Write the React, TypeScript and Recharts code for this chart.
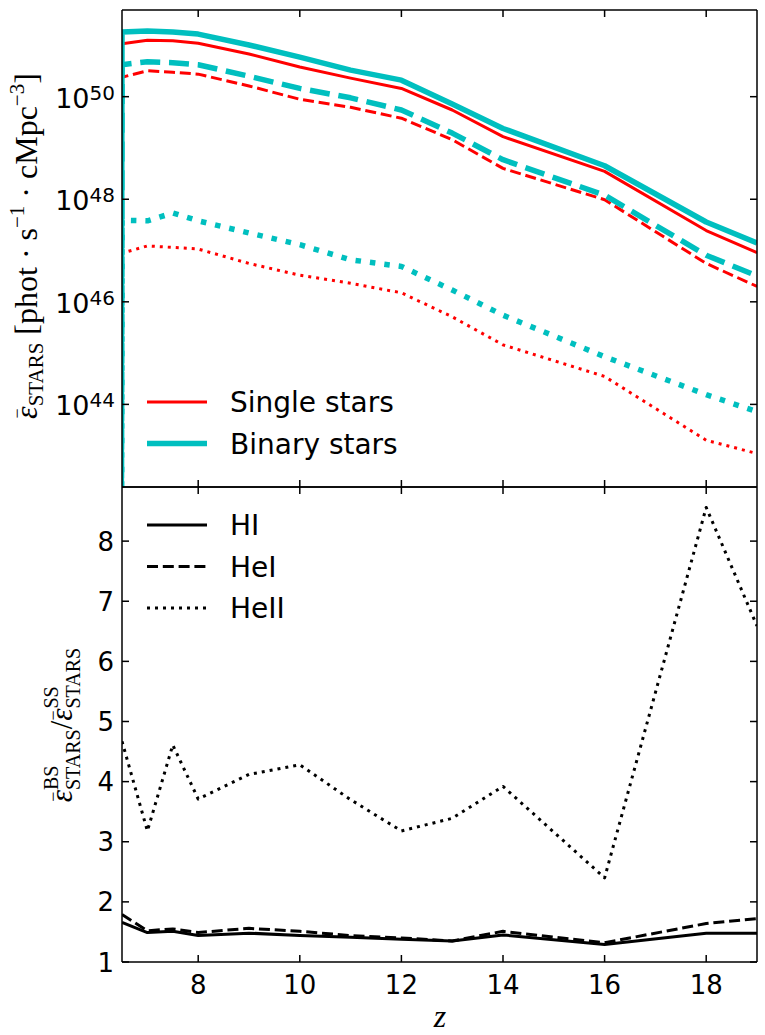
import { Legend, Line, LineChart, XAxis, YAxis } from "recharts";

// redshift grid shared by both panels (z = 6 is below the axis limit)
const redshift = [6, 6.5, 7, 7.5, 8, 9, 10, 11, 12, 13, 14, 16, 18, 19];
const zTicks = [8, 10, 12, 14, 16, 18];

// emissivity floor for the first snapshot: nothing emitted yet, drops off the log axis
const NONE = 1e-300;

// top panel, phot s^-1 cMpc^-3
const singleHI = [NONE, 1.07e51, 1.26e51, 1.23e51, 1.1e51, 6.8e50, 3.8e50, 2.3e50, 1.45e50, 5.5e49, 1.66e49, 3.5e48, 2.45e47, 9.1e46];
const singleHeI = [NONE, 2.4e50, 3.2e50, 3.0e50, 2.75e50, 1.62e50, 8.9e49, 6.2e49, 3.8e49, 1.45e49, 4.0e48, 9.8e47, 5.6e46, 2.0e46];
const singleHeII = [NONE, 8.9e46, 1.23e47, 1.15e47, 1.07e47, 5.6e46, 3.3e46, 2.3e46, 1.5e46, 5.1e45, 1.45e45, 3.5e44, 2.0e43, 1.1e43];
const binaryHI = [NONE, 1.82e51, 1.91e51, 1.82e51, 1.66e51, 1.02e51, 5.9e50, 3.3e50, 2.1e50, 7.2e49, 2.4e49, 4.5e48, 3.6e47, 1.4e47];
const binaryHeI = [NONE, 4.2e50, 4.8e50, 4.6e50, 4.2e50, 2.5e50, 1.45e50, 9.5e49, 5.5e49, 1.95e49, 5.9e48, 1.2e48, 8.1e46, 3.2e46];
const binaryHeII = [NONE, 3.9e47, 3.8e47, 5.4e47, 3.8e47, 2.2e47, 1.3e47, 6.6e46, 4.9e46, 1.7e46, 5.5e45, 8.5e44, 1.55e44, 7.2e43];

// bottom panel, binary / single ratio
const ratioHI = [null, 1.66, 1.49, 1.51, 1.44, 1.48, 1.44, 1.41, 1.38, 1.35, 1.45, 1.29, 1.48, 1.48];
const ratioHeI = [null, 1.79, 1.52, 1.55, 1.49, 1.56, 1.51, 1.44, 1.4, 1.35, 1.51, 1.32, 1.64, 1.72];
const ratioHeII = [null, 4.67, 3.18, 4.61, 3.71, 4.12, 4.28, 3.7, 3.18, 3.39, 3.92, 2.4, 8.56, 6.59];

const topData = redshift.map((z, i) => ({
  z,
  singleHI: singleHI[i],
  singleHeI: singleHeI[i],
  singleHeII: singleHeII[i],
  binaryHI: binaryHI[i],
  binaryHeI: binaryHeI[i],
  binaryHeII: binaryHeII[i]
}));

const ratioData = redshift.map((z, i) => ({
  z,
  HI: ratioHI[i],
  HeI: ratioHeI[i],
  HeII: ratioHeII[i]
}));

const RED = "#ff0000";
const CYAN = "#00bfbf";
const SANS = "DejaVu Sans";
const SERIF = "Liberation Serif";
const TICK_LEN = 7;
const frame = { stroke: "#000", strokeWidth: 1.5 };
const emDomain = [2.45e42, 4.9e51];
const emTicks = [1e44, 1e46, 1e48, 1e50];
const ratioDomain = [1, 8.9];
const ratioTicks = [1, 2, 3, 4, 5, 6, 7, 8];

// matplotlib-ish inward ticks, drawn by hand so the labels stay outside
function XTick(props: any) {
  const { x, y, payload, side, label } = props;
  const dir = side === "bottom" ? -1 : 1;
  return (
    <g>
      <line x1={x} y1={y} x2={x} y2={y + dir * TICK_LEN} stroke="#000" strokeWidth={1.5} />
      {label && (
        <text x={x} y={y + 32} textAnchor="middle" fontSize={26} fontFamily={SANS} fill="#000">
          {payload.value}
        </text>
      )}
    </g>
  );
}

function YTick(props: any) {
  const { x, y, payload, side, label, log } = props;
  const dir = side === "left" ? 1 : -1;
  let text = null;
  if (label && log) {
    const exp = Math.round(Math.log10(payload.value));
    text = (
      <text x={x - 7} y={y + 11} textAnchor="end" fontFamily={SANS} fill="#000">
        <tspan fontSize={27}>10</tspan>
        <tspan fontSize={20} dy={-8}>{exp}</tspan>
      </text>
    );
  } else if (label) {
    text = (
      <text x={x - 8} y={y + 9.5} textAnchor="end" fontSize={26} fontFamily={SANS} fill="#000">
        {payload.value}
      </text>
    );
  }
  return (
    <g>
      <line x1={x} y1={y} x2={x + dir * TICK_LEN} y2={y} stroke="#000" strokeWidth={1.5} />
      {text}
    </g>
  );
}

// the bar over epsilon is a small raised minus sign pulled back over the letter
function TopYLabel() {
  const cx = 37;
  const cy = 246;
  return (
    <text x={cx} y={cy} transform={`rotate(-90 ${cx} ${cy})`} textAnchor="middle" fontFamily={SERIF} fontSize={32} fill="#000">
      <tspan fontStyle="italic">{"\u03b5"}</tspan>
      <tspan fontSize={18} dx={-12.1} dy={-14}>{"\u2212"}</tspan>
      <tspan fontSize={21} dx={1.9} dy={20}>STARS</tspan>
      <tspan dy={-6}>{" [phot \u00b7 s"}</tspan>
      <tspan fontSize={21} dy={-13}>{"\u22121"}</tspan>
      <tspan dy={13}>{" \u00b7 cMpc"}</tspan>
      <tspan fontSize={21} dy={-13}>{"\u22123"}</tspan>
      <tspan dy={13}>]</tspan>
    </text>
  );
}

function RatioYLabel() {
  const cx = 72;
  const cy = 239;
  return (
    <text x={cx} y={cy} transform={`rotate(-90 ${cx} ${cy})`} textAnchor="middle" fontFamily={SERIF} fontSize={31} fill="#000">
      <tspan fontStyle="italic">{"\u03b5"}</tspan>
      <tspan fontSize={18} dx={-11.9} dy={-13.5}>{"\u2212"}</tspan>
      <tspan fontSize={20} dx={1.7} dy={-0.5}>BS</tspan>
      <tspan fontSize={20} dx={-24.5} dy={22}>STARS</tspan>
      <tspan dy={-8}>/</tspan>
      <tspan fontStyle="italic">{"\u03b5"}</tspan>
      <tspan fontSize={18} dx={-11.9} dy={-13.5}>{"\u2212"}</tspan>
      <tspan fontSize={20} dx={1.7} dy={-0.5}>SS</tspan>
      <tspan fontSize={20} dx={-22.2} dy={22}>STARS</tspan>
    </text>
  );
}

function ZLabel() {
  return (
    <text x={440} y={541} textAnchor="middle" fontFamily={SERIF} fontStyle="italic" fontSize={32} fill="#000">
      z
    </text>
  );
}

function KeyBox({ items }: { items: Array<{ name: string; color: string; width: number; dash?: string }> }) {
  return (
    <svg width={300} height={items.length * 42 + 10}>
      {items.map((item, i) => {
        const y = 22 + i * 41.5;
        return (
          <g key={item.name}>
            <line x1={7} y1={y} x2={67} y2={y} stroke={item.color} strokeWidth={item.width} strokeDasharray={item.dash} />
            <text x={90} y={y + 10} fontSize={28} fontFamily={SANS} fill="#000">
              {item.name}
            </text>
          </g>
        );
      })}
    </svg>
  );
}

const starKey = [
  { name: "Single stars", color: RED, width: 3 },
  { name: "Binary stars", color: CYAN, width: 5.5 }
];

const ionKey = [
  { name: "HI", color: "#000", width: 3 },
  { name: "HeI", color: "#000", width: 3, dash: "11 4.8" },
  { name: "HeII", color: "#000", width: 3, dash: "3 5" }
];

// the four framing axes every panel gets (matplotlib box with ticks on all sides)
function frameAxes(domain: number[], ticks: number[], log: boolean, bottomHeight: number, bottomLabels: boolean, yLabel: () => any, zLabel?: () => any) {
  const scale = log ? "log" : "linear";
  return [
    <XAxis
      key="xb"
      dataKey="z"
      type="number"
      domain={[6.5, 19]}
      ticks={zTicks}
      allowDataOverflow
      interval={0}
      height={bottomHeight}
      tickSize={0}
      tickMargin={0}
      tickLine={false}
      axisLine={frame}
      tick={(p: any) => <XTick {...p} side="bottom" label={bottomLabels} />}
      label={zLabel}
    />,
    <XAxis
      key="xt"
      xAxisId="top"
      orientation="top"
      dataKey="z"
      type="number"
      domain={[6.5, 19]}
      ticks={zTicks}
      allowDataOverflow
      interval={0}
      height={1}
      tickSize={0}
      tickMargin={0}
      tickLine={false}
      axisLine={frame}
      tick={(p: any) => <XTick {...p} side="top" />}
    />,
    <YAxis
      key="yl"
      scale={scale}
      type="number"
      domain={domain}
      ticks={ticks}
      allowDataOverflow
      interval={0}
      width={122}
      tickSize={0}
      tickMargin={0}
      tickLine={false}
      axisLine={frame}
      tick={(p: any) => <YTick {...p} side="left" label log={log} />}
      label={yLabel}
    />,
    <YAxis
      key="yr"
      yAxisId="right"
      orientation="right"
      scale={scale}
      type="number"
      domain={domain}
      ticks={ticks}
      allowDataOverflow
      interval={0}
      width={1}
      tickSize={0}
      tickMargin={0}
      tickLine={false}
      axisLine={frame}
      tick={(p: any) => <YTick {...p} side="right" />}
    />
  ];
}

export default function App() {
  return (
    <div style={{ position: "absolute", left: 0, top: 0, width: 765, height: 1035, background: "#fff" }}>
      <div style={{ position: "absolute", left: 0, top: 0 }}>
        <LineChart width={765} height={489} data={topData} margin={{ top: 9, right: 7, bottom: 1, left: 0 }}>
          {frameAxes(emDomain, emTicks, true, 1, false, () => <TopYLabel />)}
          <Line dataKey="singleHI" stroke={RED} strokeWidth={3} dot={false} activeDot={false} strokeLinejoin="round" isAnimationActive={false} />
          <Line dataKey="singleHeI" stroke={RED} strokeWidth={3} strokeDasharray="11 4.8" dot={false} activeDot={false} strokeLinejoin="round" isAnimationActive={false} />
          <Line dataKey="singleHeII" stroke={RED} strokeWidth={3} strokeDasharray="3 5" dot={false} activeDot={false} strokeLinejoin="round" isAnimationActive={false} />
          <Line xAxisId="top" yAxisId="right" dataKey="binaryHI" stroke={CYAN} strokeWidth={5.5} dot={false} activeDot={false} strokeLinejoin="round" isAnimationActive={false} />
          <Line dataKey="binaryHeI" stroke={CYAN} strokeWidth={5.5} strokeDasharray="20 8.8" dot={false} activeDot={false} strokeLinejoin="round" isAnimationActive={false} />
          <Line dataKey="binaryHeII" stroke={CYAN} strokeWidth={5.5} strokeDasharray="5.5 9" dot={false} activeDot={false} strokeLinejoin="round" isAnimationActive={false} />
          <Legend
            layout="vertical"
            align="center"
            verticalAlign="middle"
            content={() => <KeyBox items={starKey} />}
            wrapperStyle={{ left: 140, top: 380, width: 300, height: 94 }}
          />
        </LineChart>
      </div>
      <div style={{ position: "absolute", left: 0, top: 486 }}>
        <LineChart width={765} height={547} data={ratioData} margin={{ top: 0, right: 7, bottom: 0, left: 0 }}>
          {frameAxes(ratioDomain, ratioTicks, false, 71, true, () => <RatioYLabel />, () => <ZLabel />)}
          <Line xAxisId="top" yAxisId="right" dataKey="HI" stroke="#000" strokeWidth={3} dot={false} activeDot={false} strokeLinejoin="round" isAnimationActive={false} />
          <Line dataKey="HeI" stroke="#000" strokeWidth={3} strokeDasharray="11 4.8" dot={false} activeDot={false} strokeLinejoin="round" isAnimationActive={false} />
          <Line dataKey="HeII" stroke="#000" strokeWidth={3} strokeDasharray="3 5" dot={false} activeDot={false} strokeLinejoin="round" isAnimationActive={false} />
          <Legend
            layout="vertical"
            align="center"
            verticalAlign="middle"
            content={() => <KeyBox items={ionKey} />}
            wrapperStyle={{ left: 140, top: 17, width: 300, height: 136 }}
          />
        </LineChart>
      </div>
    </div>
  );
}
